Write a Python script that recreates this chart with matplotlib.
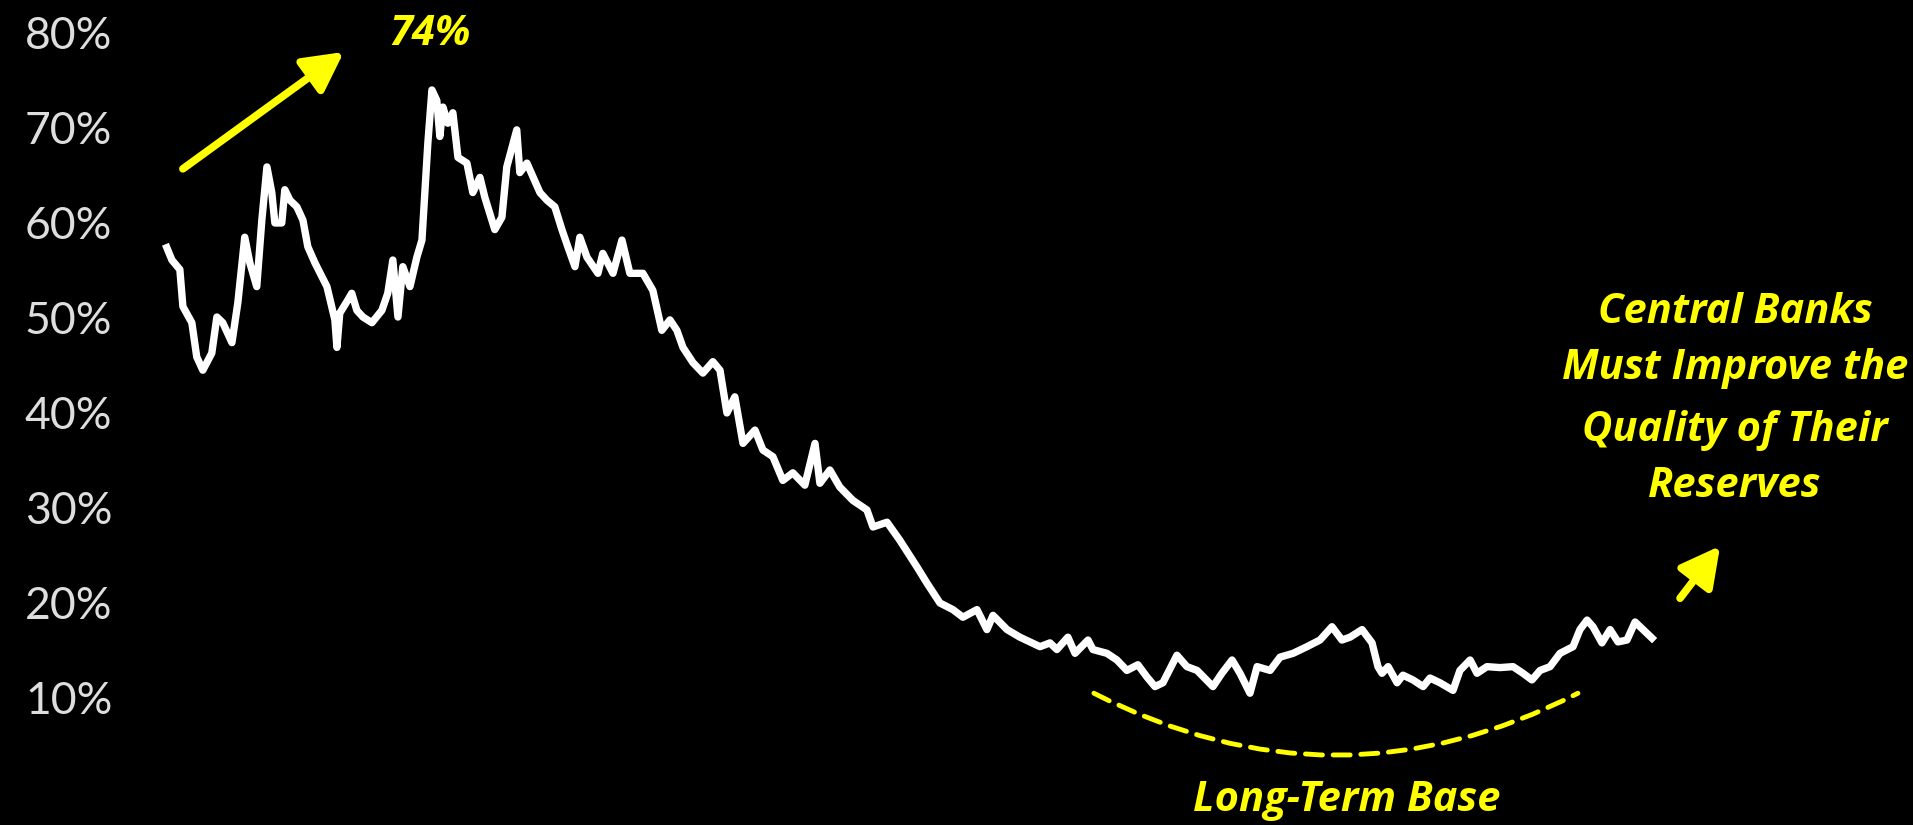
import matplotlib.pyplot as plt

# gold share of central bank reserves (%)
years = [
    1950.00, 1950.25, 1950.64, 1950.79, 1951.23, 1951.47, 1951.77, 1952.21, 1952.46, 1952.75,
    1953.20, 1953.49, 1953.83, 1954.08, 1954.42, 1954.67, 1954.92, 1955.16, 1955.31, 1955.65,
    1955.80, 1956.05, 1956.39, 1956.69, 1956.93, 1957.28, 1957.87, 1958.26, 1958.36, 1958.50,
    1958.90, 1959.09, 1959.34, 1959.64, 1960.08, 1960.57, 1960.86, 1961.11, 1961.36, 1961.60,
    1961.95, 1962.29, 1962.54, 1962.68, 1962.83, 1963.03, 1963.27, 1963.42, 1963.57, 1963.81,
    1964.06, 1964.31, 1964.75, 1965.04, 1965.39, 1965.63, 1966.12, 1966.47, 1966.71, 1967.20,
    1967.35, 1967.70, 1968.34, 1968.68, 1969.07, 1969.42, 1969.71, 1970.06, 1970.30, 1970.65,
    1971.19, 1971.43, 1971.93, 1972.37, 1972.76, 1973.40, 1973.89, 1974.33, 1974.73, 1975.07,
    1975.37, 1975.86, 1976.35, 1976.84, 1977.19, 1977.53, 1977.92, 1978.32, 1978.91, 1979.30,
    1979.79, 1980.28, 1980.77, 1981.36, 1981.86, 1982.10, 1982.59, 1983.08, 1983.72, 1984.41,
    1984.71, 1985.40, 1986.03, 1986.87, 1987.36, 1988.00, 1988.64, 1989.13, 1989.82, 1990.31,
    1990.61, 1991.30, 1991.93, 1992.92, 1993.41, 1993.75, 1994.29, 1994.64, 1995.28, 1995.52,
    1996.21, 1996.70, 1997.19, 1997.73, 1998.18, 1998.57, 1998.96, 1999.65, 2000.14, 2000.64,
    2001.42, 2001.86, 2002.36, 2002.75, 2003.24, 2003.59, 2004.23, 2004.72, 2005.36, 2006.04,
    2006.68, 2007.27, 2007.76, 2008.16, 2008.75, 2009.24, 2009.53, 2009.73, 2010.03, 2010.47,
    2010.76, 2011.25, 2011.75, 2012.09, 2012.58, 2013.22, 2013.56, 2014.06, 2014.40, 2014.89,
    2015.53, 2016.17, 2016.66, 2017.10, 2017.50, 2017.99, 2018.48, 2019.12, 2019.46, 2019.81,
    2020.10, 2020.54, 2020.94, 2021.33, 2021.77, 2022.17, 2022.56, 2023.00,
]
share = [
    57.4, 56.1, 55.1, 51.2, 49.5, 45.9, 44.5, 46.3, 50.1, 49.5,
    47.4, 51.6, 58.5, 55.8, 53.3, 60.3, 65.9, 63.2, 60.0, 60.0,
    63.5, 62.4, 61.7, 60.3, 57.5, 55.8, 53.3, 49.8, 46.9, 50.5,
    51.9, 52.6, 50.8, 50.1, 49.5, 50.8, 52.6, 56.1, 50.1, 55.4,
    53.3, 56.4, 58.2, 63.2, 68.4, 74.0, 72.9, 69.1, 72.2, 70.5,
    71.6, 66.9, 66.3, 63.2, 64.8, 62.7, 59.3, 60.6, 65.9, 69.8,
    65.3, 66.3, 63.2, 62.4, 61.7, 59.3, 57.5, 55.4, 58.5, 56.4,
    54.7, 56.8, 54.7, 58.2, 54.7, 54.7, 52.9, 48.7, 49.8, 48.7,
    46.9, 45.3, 44.2, 45.4, 44.5, 40.0, 41.7, 36.8, 38.2, 36.1,
    35.4, 32.9, 33.7, 32.4, 36.8, 32.6, 34.0, 32.2, 30.8, 29.8,
    28.0, 28.5, 26.6, 23.8, 22.1, 20.0, 19.3, 18.5, 19.3, 17.2,
    18.7, 17.2, 16.4, 15.4, 15.8, 15.1, 16.4, 14.7, 16.1, 15.1,
    14.7, 14.0, 12.9, 13.5, 12.2, 11.2, 11.6, 14.5, 13.3, 12.9,
    11.2, 12.6, 14.0, 12.6, 10.5, 13.3, 12.9, 14.3, 14.7, 15.4,
    16.1, 17.5, 16.1, 16.4, 17.2, 15.8, 13.3, 12.6, 13.3, 11.6,
    12.4, 11.9, 11.2, 12.1, 11.6, 10.8, 12.9, 14.0, 12.6, 13.3,
    13.2, 13.3, 12.6, 11.9, 12.9, 13.3, 14.7, 15.4, 17.2, 18.2,
    17.5, 15.8, 17.2, 15.9, 16.1, 18.0, 17.2, 16.3,
]
y_ticks = [10, 20, 30, 40, 50, 60, 70, 80]
y_tick_labels = [f"{t}%" for t in y_ticks]

YELLOW = '#FFFF00'
TICK_FONT = ['Lato', 'DejaVu Sans']
NOTE_FONT = ['Open Sans', 'DejaVu Sans']
note_style = dict(color=YELLOW, fontsize=30, fontweight='bold', fontstyle='italic',
                  family=NOTE_FONT, ha='center', va='center')
arrow_style = dict(arrowstyle='-|>,head_length=0.85,head_width=0.45', color=YELLOW,
                   lw=5.5, mutation_scale=28, shrinkA=0, shrinkB=0)

fig = plt.figure(figsize=(19.13, 8.25), dpi=100, facecolor='black')
ax = fig.add_axes([0.0653, 0, 0.9347, 1])
ax.set_facecolor('black')

ax.plot(years, share, color='white', lw=5.3, solid_joinstyle='round')

ax.set_xlim(1947.94, 2035.83)
ax.set_ylim(-3.37, 83.47)
ax.set_xticks([])
ax.set_yticks(y_ticks)
ax.set_yticklabels(y_tick_labels, color='#dedede', fontsize=32, family=TICK_FONT)
ax.tick_params(axis='y', length=0, pad=9)
for s in ax.spines.values():
    s.set_visible(False)

# annotations
ax.text(1962.93, 79.8, '74%', **note_style)
ax.annotate('', xy=(1958.70, 78.0), xytext=(1950.79, 65.7), arrowprops=arrow_style)

note_lines = ['Central Banks', 'Must Improve the', 'Quality of Their', 'Reserves']
for line, yv in zip(note_lines, [50.6, 44.7, 38.2, 32.3]):
    ax.text(2027.08, yv, line, **note_style)
ax.annotate('', xy=(2026.35, 26.0), xytext=(2024.38, 20.5), arrowprops=arrow_style)

ax.annotate('', xy=(2019.36, 10.5), xytext=(1995.57, 10.5),
            arrowprops=dict(arrowstyle='-', connectionstyle='arc3,rad=0.256',
                            color=YELLOW, lw=3.5, linestyle=(0, (3.5, 2.2)),
                            shrinkA=0, shrinkB=0))
ax.text(2008.01, -0.74, 'Long-Term Base', **note_style)

fig.savefig('out.png', dpi=100, facecolor='black')
